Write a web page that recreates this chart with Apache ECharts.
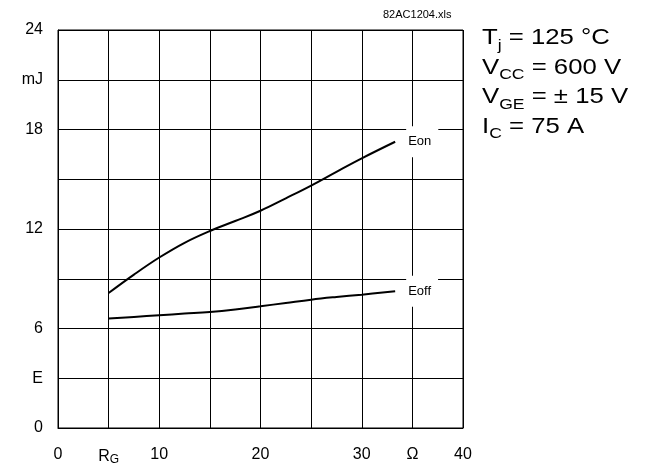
<!DOCTYPE html>
<html>
<head>
<meta charset="utf-8">
<script src="https://cdn.jsdelivr.net/npm/echarts@6/dist/echarts.min.js"></script>
<style>
  html, body { margin: 0; padding: 0; background: #fff; }
  #container1 { width: 649px; height: 466px; }
</style>
</head>
<body>
<div id="container1"></div>
<script>
// gate resistance (ohm)
var rg = [5, 7.5, 10, 12.5, 15, 17.5, 20, 22.5, 25, 27.5, 30, 33.3];
// switching energies (mJ)
var eon = [8.14, 9.25, 10.28, 11.17, 11.88, 12.48, 13.1, 13.85, 14.62, 15.45, 16.26, 17.26];
var eoff = [6.6, 6.7, 6.8, 6.9, 7.0, 7.15, 7.34, 7.54, 7.74, 7.9, 8.04, 8.24];
// tick labels
var xLabels = { 0: '0', 5: '{r|R}{s|G}', 10: '10', 20: '20', 30: '30', 35: 'Ω', 40: '40' };
var yLabels = { 0: '0', 3: 'E', 6: '6', 12: '12', 18: '18', 21: 'mJ', 24: '24' };
// test conditions (right side)
var conds = [
  ['T', 'j', ' = 125 °C'],
  ['V', 'CC', ' = 600 V'],
  ['V', 'GE', ' = ± 15 V'],
  ['I', 'C', ' = 75 A']
];

function pairs(xs, ys) {
  var out = [];
  for (var i = 0; i < xs.length; i++) out.push([xs[i], ys[i]]);
  return out;
}

var dom = document.getElementById("container1");
var myChart = echarts.init(dom);
var font = 'Liberation Sans, Arial, sans-serif';

var graphics = [{
  type: 'text', left: 383, top: 9,
  style: { text: '82AC1204.xls', fontSize: 11, fill: '#000', fontFamily: font }
}];
conds.forEach(function (c, i) {
  graphics.push({
    type: 'text', x: 482, y: 27 + i * 29.5, scaleX: 1.17,
    style: {
      text: '{m|' + c[0] + '}{s|' + c[1] + '}{m|' + c[2] + '}',
      fill: '#000', fontFamily: font,
      rich: {
        m: { fontSize: 22, fill: '#000', fontFamily: font, verticalAlign: 'bottom' },
        s: { fontSize: 15, fill: '#000', fontFamily: font, verticalAlign: 'bottom', padding: [0, 0, -4, 0] }
      }
    }
  });
});

var endLbl = function (txt) {
  return {
    show: true, formatter: txt, color: '#000', fontSize: 13, fontFamily: font,
    distance: 11, backgroundColor: '#fff', padding: [9, 7, 9, 2]
  };
};

var option = {
  animation: false,
  textStyle: { fontFamily: font },
  grid: {
    left: 58, right: 186, top: 30, bottom: 38,
    show: true, borderColor: '#000', borderWidth: 1
  },
  xAxis: {
    type: 'value', min: 0, max: 40, interval: 5,
    axisLine: { lineStyle: { color: '#000' } },
    axisTick: { show: false },
    splitLine: { lineStyle: { color: '#000', width: 1 } },
    axisLabel: {
      color: '#000', fontSize: 16, margin: 19, fontFamily: font,
      formatter: function (v) { return xLabels[v] !== undefined ? xLabels[v] : ''; },
      rich: {
        r: { fontSize: 16, color: '#000', fontFamily: font },
        s: { fontSize: 12, color: '#000', fontFamily: font, padding: [7, 0, 0, 0] }
      }
    }
  },
  yAxis: {
    type: 'value', min: 0, max: 24, interval: 3,
    axisLine: { lineStyle: { color: '#000' } },
    axisTick: { show: false },
    splitLine: { lineStyle: { color: '#000', width: 1 } },
    axisLabel: {
      color: '#000', fontSize: 16, margin: 15, fontFamily: font,
      formatter: function (v) { return yLabels[v] !== undefined ? yLabels[v] : ''; }
    }
  },
  series: [{
    name: 'Eon', type: 'line', smooth: 0.4, symbol: 'none',
    lineStyle: { color: '#000', width: 2 },
    data: pairs(rg, eon),
    endLabel: endLbl('Eon')
  }, {
    name: 'Eoff', type: 'line', smooth: 0.4, symbol: 'none',
    lineStyle: { color: '#000', width: 2 },
    data: pairs(rg, eoff),
    endLabel: endLbl('Eoff')
  }],
  graphic: graphics
};
myChart.setOption(option, true);
window.addEventListener("resize", () => {
  myChart.resize();
});
</script>
</body>
</html>
